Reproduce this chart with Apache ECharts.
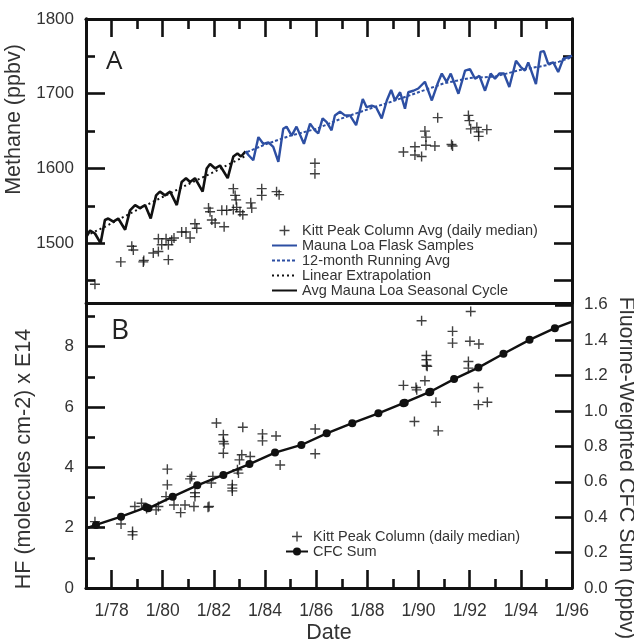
<!DOCTYPE html>
<html><head><meta charset="utf-8">
<script src="https://cdn.jsdelivr.net/npm/echarts@6/dist/echarts.min.js"></script>
<style>html,body{margin:0;padding:0;background:#fff}#c{width:634px;height:641px}</style>
</head><body><div id="c"></div>
<script>
// ---------- Panel A : methane ----------
const cycleYears = [1977.0,1977.16,1977.35,1977.57,1977.74,1977.87,1978.07,1978.26,1978.53,1978.72,1978.92,1979.11,1979.31,1979.53,1979.74,1979.89,1980.09,1980.29,1980.55,1980.74,1980.91,1981.07,1981.26,1981.56,1981.72,1981.85,1982.05,1982.24,1982.54,1982.76,1982.92,1983.06,1983.24];
const cycleValues = [1508,1517,1513,1500,1531,1533,1529,1533,1518,1544,1551,1547,1551,1533,1564,1569,1564,1569,1551,1582,1587,1582,1587,1569,1600,1606,1600,1604,1587,1616,1620,1616,1623];

const extrapYears = [1977.0,1977.74,1978.85,1979.89,1980.94,1981.92,1982.9,1983.2];
const extrapValues = [1510,1522,1542,1560,1578,1594,1611,1616];

const flaskYears = [1983.24,1983.35,1983.54,1983.74,1983.93,1984.13,1984.32,1984.52,1984.71,1984.84,1985.04,1985.23,1985.52,1985.76,1985.95,1986.08,1986.25,1986.41,1986.6,1986.73,1986.93,1987.12,1987.32,1987.56,1987.82,1987.97,1988.17,1988.34,1988.56,1988.76,1988.93,1989.08,1989.28,1989.47,1989.6,1989.8,1989.99,1990.25,1990.52,1990.74,1990.91,1991.1,1991.26,1991.56,1991.82,1992.01,1992.21,1992.38,1992.6,1992.82,1992.99,1993.16,1993.34,1993.55,1993.81,1993.99,1994.16,1994.29,1994.59,1994.77,1994.9,1995.07,1995.27,1995.46,1995.66,1995.86,1996.0];
const flaskValues = [1623,1618,1611,1642,1633,1635,1629,1609,1653,1656,1644,1656,1633,1660,1651,1647,1667,1662,1651,1671,1676,1671,1671,1658,1693,1682,1684,1682,1667,1691,1705,1691,1702,1680,1702,1704,1707,1716,1691,1713,1727,1716,1727,1700,1731,1733,1720,1724,1704,1727,1720,1727,1727,1709,1744,1736,1731,1742,1713,1756,1757,1740,1742,1729,1747,1749,1751];

const runAvgYears = [1983.3,1984,1985,1986,1987,1988,1989,1990,1990.5,1991,1992,1993,1994,1995,1995.5,1996];
const runAvgValues = [1622,1632,1644,1653,1667,1679,1690,1702,1708,1714,1721,1723,1732,1738,1743,1749];

const kpCh4Years = [1977.35,1978.36,1978.79,1978.85,1979.24,1979.26,1979.63,1979.83,1979.83,1979.96,1980.13,1980.22,1980.22,1980.35,1980.44,1980.74,1980.91,1981.07,1981.26,1981.33,1981.79,1981.85,1981.92,1982.05,1982.31,1982.4,1982.5,1982.76,1982.76,1982.83,1982.87,1982.89,1983.02,1983.13,1983.44,1983.48,1983.87,1983.87,1984.45,1984.55,1985.95,1985.95,1989.41,1989.86,1989.86,1990.12,1990.25,1990.29,1990.29,1990.64,1990.75,1991.29,1991.33,1991.95,1991.99,1992.04,1992.28,1992.35,1992.35,1992.67];
const kpCh4Values = [1445,1475,1496,1491,1475,1477,1487,1489,1506,1498,1506,1498,1478,1504,1507,1515,1515,1507,1526,1520,1547,1542,1531,1527,1544,1522,1544,1545,1573,1564,1558,1548,1542,1538,1554,1547,1573,1564,1569,1565,1607,1593,1622,1629,1618,1616,1650,1642,1631,1630,1668,1632,1630,1671,1664,1653,1655,1649,1643,1652];

// ---------- Panel B : HF and CFC ----------
const kpHfYears = [1977.35,1978.37,1978.82,1978.82,1978.91,1979.17,1979.37,1979.74,1979.83,1980.18,1980.18,1980.13,1980.44,1980.7,1980.87,1981.07,1981.13,1981.26,1981.26,1981.22,1981.77,1981.81,1981.9,1981.96,1982.1,1982.37,1982.37,1982.4,1982.37,1982.72,1982.72,1982.72,1982.92,1983.0,1983.09,1982.96,1983.13,1983.42,1983.9,1983.9,1984.43,1984.59,1985.96,1985.96,1989.41,1989.9,1989.93,1990.25,1989.84,1990.12,1990.31,1990.31,1990.31,1990.34,1990.68,1990.77,1991.33,1991.33,1992.04,1992.01,1992.36,1991.95,1991.95,1992.34,1992.34,1992.69];
const kpHfValues = [2.2,2.12,1.87,1.76,2.70,2.81,2.64,2.59,2.70,3.94,3.42,3.03,2.75,2.50,2.75,3.62,3.70,3.16,3.03,2.70,2.68,2.70,3.48,3.70,5.47,5.08,4.86,4.78,4.47,3.42,3.31,3.22,3.92,4.25,4.42,3.81,5.33,4.36,5.11,4.88,5.04,4.08,5.27,4.45,6.72,6.65,6.57,6.87,5.52,8.86,7.71,7.57,7.38,7.35,6.16,5.21,8.51,8.12,9.17,8.18,8.09,7.51,7.29,6.65,6.08,6.16];

const cfcYears = [1977.0,1977.39,1978.37,1979.35,1979.44,1980.39,1981.35,1982.37,1983.39,1984.39,1985.42,1986.41,1987.41,1988.43,1989.41,1989.46,1990.42,1990.46,1991.39,1992.34,1993.32,1994.34,1995.33,1996.0];
const cfcValues = [0.337,0.356,0.403,0.456,0.45,0.516,0.58,0.639,0.70,0.765,0.808,0.874,0.931,0.987,1.044,1.046,1.106,1.108,1.18,1.245,1.323,1.402,1.468,1.505];

// ---------- tick labels ----------
const yearMajorTicks = [1978,1980,1982,1984,1986,1988,1990,1992,1994,1996];
const yearMinorTicks = [1977,1979,1981,1983,1985,1987,1989,1991,1993,1995];
const methaneTicks = [1500,1600,1700,1800];
const methaneMinorTicks = [1450,1550,1650,1750];
const methaneRightTicks = [1450,1500,1550,1600,1650,1700];
const methaneRightShort = [1750];
const hfTicks = [0,2,4,6,8];
const hfMinorTicks = [1,3,5,7,9];
const cfcTicks = [0,0.2,0.4,0.6,0.8,1.0,1.2,1.4,1.6];

const zip = (a, b) => a.map((v, i) => [v, b[i]]);
const FONT = '"Liberation Sans", Arial, Helvetica, sans-serif';
const PLUS = 'path://M4.3,0h1.4v4.3h4.3v1.4h-4.3v4.3h-1.4v-4.3h-4.3v-1.4h4.3z';
const BLUE = '#2d4fa3';
const BLACK = '#111';
const LW = 2.8;
const TITLE_FS = 21.5;

function xAxis(grid, pos, ticks, len, labels, extra) {
  return Object.assign({
    type: 'value', gridIndex: grid, position: pos, min: 1977, max: 1996,
    axisLine: { show: true, onZero: false, lineStyle: { color: BLACK, width: LW } },
    axisTick: { show: !!ticks, inside: true, length: len, customValues: ticks || [], lineStyle: { color: BLACK, width: 2.6 } },
    axisLabel: labels ? { show: true, customValues: ticks, margin: 14, fontSize: 17.5, color: '#333', fontFamily: FONT,
      formatter: v => '1/' + String(Math.round(v)).slice(2) } : { show: false },
    splitLine: { show: false }
  }, extra || {});
}
function yAxis(grid, pos, min, max, ticks, len, labels, extra) {
  return Object.assign({
    type: 'value', gridIndex: grid, position: pos, min: min, max: max,
    axisLine: { show: true, onZero: false, lineStyle: { color: BLACK, width: LW } },
    axisTick: { show: true, inside: true, length: len, customValues: ticks, lineStyle: { color: BLACK, width: 2.6 } },
    axisLabel: labels ? Object.assign({ show: true, customValues: ticks, margin: 12, fontSize: 17, color: '#333', fontFamily: FONT,
      formatter: v => String(v) }, labels) : { show: false },
    splitLine: { show: false }
  }, extra || {});
}
const hideSym = { opacity: 0 };

const chart = echarts.init(document.getElementById('c'), null, { renderer: 'canvas' });
chart.setOption({
  animation: false,
  backgroundColor: '#fff',
  title: [
    { text: 'A', left: 101, top: 44, textStyle: { fontSize: 26, fontWeight: 'normal', color: '#222', fontFamily: '"Open Sans", sans-serif' } },
    { text: 'B', left: 106, top: 312, textStyle: { fontSize: 28, fontWeight: 'normal', color: '#222', fontFamily: '"Open Sans", sans-serif' } }
  ],
  grid: [
    { left: 86, right: 62, top: 19, height: 284, outerBoundsMode: 'none', containLabel: false },
    { left: 86, right: 62, top: 303, height: 285, outerBoundsMode: 'none', containLabel: false }
  ],
  legend: [
    { orient: 'vertical', left: 266, top: 218, itemWidth: 25, itemHeight: 10, itemGap: 0,
      textStyle: { fontSize: 14.5, color: '#333', fontFamily: FONT, lineHeight: 14.3 },
      data: [
        { name: 'Kitt Peak Column Avg (daily median)' },
        { name: 'Mauna Loa Flask Samples', itemStyle: hideSym },
        { name: '12-month Running Avg', itemStyle: hideSym },
        { name: 'Linear Extrapolation', itemStyle: hideSym },
        { name: 'Avg Mauna Loa Seasonal Cycle', itemStyle: hideSym }
      ] },
    { orient: 'vertical', left: 280, top: 524, itemWidth: 22, itemHeight: 10, itemGap: 0,
      textStyle: { fontSize: 14.5, color: '#333', fontFamily: FONT, lineHeight: 15 },
      data: [{ name: 'Kitt Peak Column (daily median)' }, { name: 'CFC Sum' }] }
  ],
  xAxis: [
    xAxis(0, 'top', yearMajorTicks, 18, false),
    xAxis(0, 'top', yearMinorTicks, 10, false),
    xAxis(0, 'bottom', null, 0, false),
    xAxis(1, 'bottom', yearMajorTicks, 18, true, {
      name: 'Date', nameLocation: 'middle', nameGap: 34,
      nameTextStyle: { fontSize: TITLE_FS, color: '#333', fontFamily: FONT } }),
    xAxis(1, 'bottom', yearMinorTicks, 9, false)
  ],
  yAxis: [
    yAxis(0, 'left', 1420, 1800, methaneTicks, 19, {}, {
      name: 'Methane (ppbv)', nameLocation: 'middle', nameGap: 51,
      nameTextStyle: { fontSize: TITLE_FS, color: '#333', fontFamily: FONT, padding: [0, 0, 0, 83] } }),
    yAxis(0, 'left', 1420, 1800, methaneMinorTicks, 9, null),
    yAxis(0, 'right', 1420, 1800, methaneRightTicks, 18, null),
    yAxis(0, 'right', 1420, 1800, methaneRightShort, 9, null),
    yAxis(1, 'left', 0, 9.45, hfTicks, 19, {}, {
      name: 'HF (molecules cm-2) x E14', nameLocation: 'middle', nameGap: 51,
      nameTextStyle: { fontSize: TITLE_FS, color: '#333', fontFamily: FONT, padding: [0, 27, 0, 0] } }),
    yAxis(1, 'left', 0, 9.45, hfMinorTicks, 9, null),
    yAxis(1, 'right', 0, 1.61, cfcTicks, 17, { formatter: v => v.toFixed(1) }, {
      name: 'Fluorine-Weighted CFC Sum (ppbv)', nameLocation: 'middle', nameGap: 43, nameRotate: -90, nameMoveOverlap: false,
      nameTextStyle: { fontSize: TITLE_FS, color: '#333', fontFamily: FONT, padding: [0, 0, 0, 45] } })
  ],
  series: [
    { name: 'Avg Mauna Loa Seasonal Cycle', type: 'line', xAxisIndex: 0, yAxisIndex: 0, data: zip(cycleYears, cycleValues),
      symbol: 'none', lineStyle: { color: BLACK, width: 2.6 }, itemStyle: { color: BLACK }, z: 3 },
    { name: 'Linear Extrapolation', type: 'line', xAxisIndex: 0, yAxisIndex: 0, data: zip(extrapYears, extrapValues),
      symbol: 'none', lineStyle: { color: BLACK, width: 2, type: [2, 3] }, itemStyle: { color: BLACK }, z: 4 },
    { name: 'Mauna Loa Flask Samples', type: 'line', xAxisIndex: 0, yAxisIndex: 0, data: zip(flaskYears, flaskValues),
      symbol: 'none', lineStyle: { color: BLUE, width: 2.4 }, itemStyle: { color: BLUE }, z: 3 },
    { name: '12-month Running Avg', type: 'line', xAxisIndex: 0, yAxisIndex: 0, data: zip(runAvgYears, runAvgValues),
      symbol: 'none', lineStyle: { color: BLUE, width: 2, type: [3, 2] }, itemStyle: { color: BLUE }, z: 4 },
    { name: 'Kitt Peak Column Avg (daily median)', type: 'scatter', xAxisIndex: 0, yAxisIndex: 0, data: zip(kpCh4Years, kpCh4Values),
      symbol: PLUS, symbolSize: 10, itemStyle: { color: BLACK }, z: 5 },
    { name: 'Kitt Peak Column (daily median)', type: 'scatter', xAxisIndex: 3, yAxisIndex: 4, data: zip(kpHfYears, kpHfValues),
      symbol: PLUS, symbolSize: 10, itemStyle: { color: BLACK }, z: 5 },
    { name: 'CFC Sum', type: 'line', xAxisIndex: 3, yAxisIndex: 6, data: zip(cfcYears, cfcValues),
      symbol: 'circle', showSymbol: true,
      symbolSize: (v, p) => (p.dataIndex === 0 || p.dataIndex === cfcYears.length - 1) ? 0 : 8,
      lineStyle: { color: BLACK, width: 2.4 }, itemStyle: { color: BLACK }, z: 4 }
  ]
});
</script>
</body></html>
